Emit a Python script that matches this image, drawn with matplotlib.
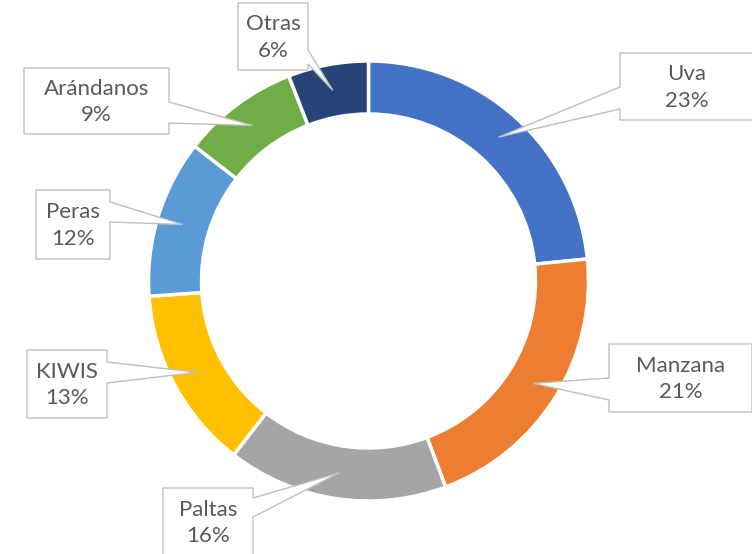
import numpy as np
import matplotlib
matplotlib.use("Agg")
import matplotlib.pyplot as plt
from matplotlib.patches import Polygon

labels = ['Uva', 'Manzana', 'Paltas', 'KIWIS', 'Peras', 'Arándanos', 'Otras']
values = [23.4, 20.9, 16.2, 13.4, 11.6, 8.6, 5.9]
colors = ['#4472C4', '#ED7D31', '#A5A5A5', '#FFC000', '#5B9BD5', '#70AD47', '#264478']

# callout boxes in pixel coords: (x0, y0, x1, y1), side of the pointer, base a, base b
boxes = {
    'Uva':       ((620, 53, 753, 120), 'left', 87, 109),
    'Manzana':   ((609, 344, 752, 412), 'left', 378, 400),
    'Paltas':    ((163, 488, 253, 556), 'right', 498, 517),
    'KIWIS':     ((27, 350, 107, 418), 'right', 362, 383),
    'Peras':     ((36, 190, 110, 259), 'right', 202, 222),
    'Arándanos': ((24, 68, 169, 134), 'right', 102, 123),
    'Otras':     ((238, 3, 308, 70), 'right', 50, 64),
}

W, H = 752, 554
cx, cy = 368.5, 281
R = 220
ring = 53
txt_col = '#595959'
edge_col = '#BFBFBF'
txt_size = 16

fig = plt.figure(figsize=(W / 100, H / 100), dpi=100)
ax = fig.add_axes([0, 0, 1, 1])

wedges, _ = ax.pie(values, colors=colors, radius=R, center=(cx, cy),
                   startangle=-90, counterclock=True,
                   wedgeprops=dict(width=ring, edgecolor='white', linewidth=2.5))

ax.set_xlim(0, W)
ax.set_ylim(H, 0)
ax.set_aspect('equal')
ax.axis('off')


def callout(box, side, a, b, tip):
    x0, y0, x1, y1 = box
    if side == 'right':
        pts = [(x0, y0), (x1, y0), (x1, a), tip, (x1, b), (x1, y1), (x0, y1)]
    else:
        pts = [(x0, y0), (x1, y0), (x1, y1), (x0, y1), (x0, b), tip, (x0, a)]
    ax.add_patch(Polygon(pts, closed=True, facecolor='white', edgecolor=edge_col,
                         linewidth=1.0, zorder=5))


for w, name, val in zip(wedges, labels, values):
    mid = np.deg2rad((w.theta1 + w.theta2) / 2)
    r = R - 26
    tip = (cx + r * np.cos(mid), cy + r * np.sin(mid))
    box, side, a, b = boxes[name]
    callout(box, side, a, b, tip)
    tx = (box[0] + box[2]) / 2
    ty = (box[1] + box[3]) / 2 + 1
    ax.text(tx, ty, f'{name}\n{round(val)}%', ha='center', va='center', color=txt_col,
            fontsize=txt_size, family='Lato', linespacing=1.42, zorder=6)

plt.savefig('out.png', dpi=100)
